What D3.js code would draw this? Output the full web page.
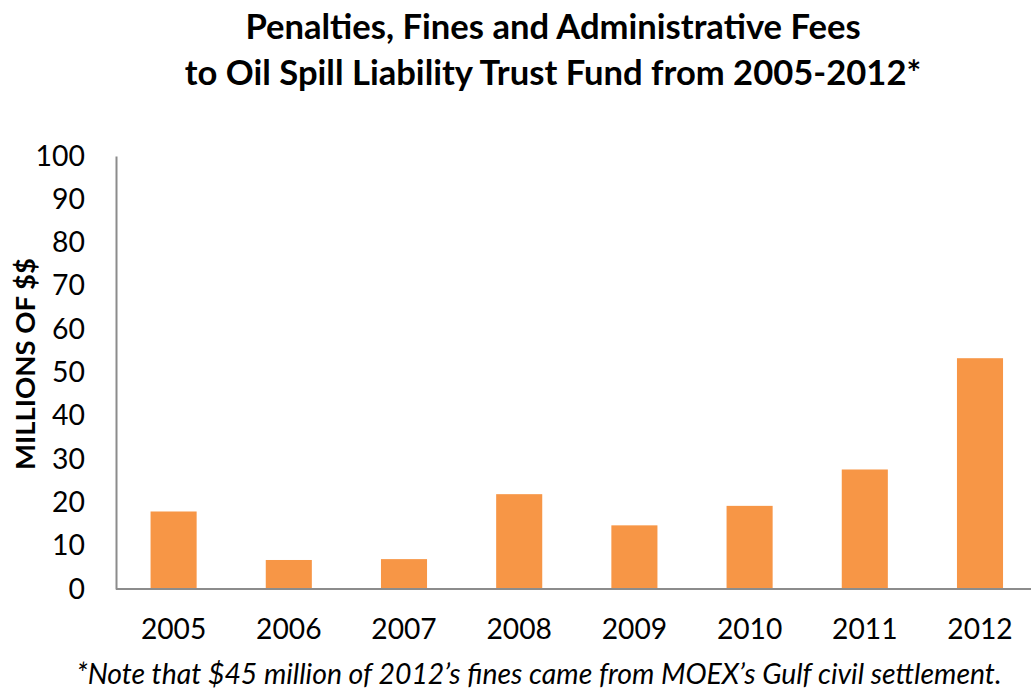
<!DOCTYPE html>
<html><head><meta charset="utf-8">
<script src="https://cdn.jsdelivr.net/npm/d3@7"></script>
<style>body{margin:0;background:#fff}svg{display:block}</style>
</head><body>
<svg id="c" width="1031" height="692"></svg>
<script>
const years = ["2005","2006","2007","2008","2009","2010","2011","2012"];
const values = [17.9, 6.7, 6.9, 21.9, 14.7, 19.2, 27.6, 53.3];
const yTicks = [0,10,20,30,40,50,60,70,80,90,100];
const titleLines = ["Penalties, Fines and Administrative Fees","to Oil Spill Liability Trust Fund from 2005-2012*"];
const yLabel = "MILLIONS OF $$";
const note = "*Note that $45 million of 2012\u2019s fines came from MOEX\u2019s Gulf civil settlement.";

const svg = d3.select("#c");
const font = "Lato, 'Open Sans', sans-serif";
const x0 = 116, x1 = 1037.6, yTop = 156, yBot = 589;
const x = d3.scaleBand().domain(years).range([x0, x1]).padding(0);
const y = d3.scaleLinear().domain([0,100]).range([yBot, yTop]);
const bw = x.bandwidth()*0.4;

svg.selectAll("rect.bar").data(values).join("rect")
  .attr("class","bar")
  .attr("x",(d,i)=>x(years[i])+x.bandwidth()*0.3)
  .attr("width",bw)
  .attr("y",d=>y(d))
  .attr("height",d=>y(0)-y(d))
  .attr("fill","#f79646");

// y axis
const ya = svg.append("g").attr("transform",`translate(${x0},0)`)
  .call(d3.axisLeft(y).tickValues(yTicks).tickSize(0).tickPadding(31));
ya.select(".domain").attr("stroke","#8c8c8c").attr("stroke-width",2);
ya.selectAll("text").attr("font-family",font).attr("font-size",28.4).attr("fill","#000");

// x axis
const xa = svg.append("g").attr("transform",`translate(0,${yBot})`)
  .call(d3.axisBottom(x).tickSize(0).tickPadding(30));
xa.select(".domain").attr("d",`M${x0},0H1031`).attr("stroke","#8c8c8c").attr("stroke-width",2);
xa.selectAll("text").attr("font-family",font).attr("font-size",28.2).attr("fill","#000");

svg.append("text").attr("x",553).attr("y",39).attr("text-anchor","middle")
  .attr("font-family",font).attr("font-weight","bold").attr("font-size",34.6).text(titleLines[0]);
svg.append("text").attr("x",553).attr("y",85).attr("text-anchor","middle")
  .attr("font-family",font).attr("font-weight","bold").attr("font-size",34.6).text(titleLines[1]);

svg.append("text").attr("transform","translate(35,364) rotate(-90)").attr("text-anchor","middle")
  .attr("font-family",font).attr("font-weight","bold").attr("font-size",27.5).text(yLabel);

svg.append("text").attr("x",539).attr("y",684).attr("text-anchor","middle")
  .attr("font-family",font).attr("font-style","italic").attr("font-size",28.4).text(note);
</script>
</body></html>
